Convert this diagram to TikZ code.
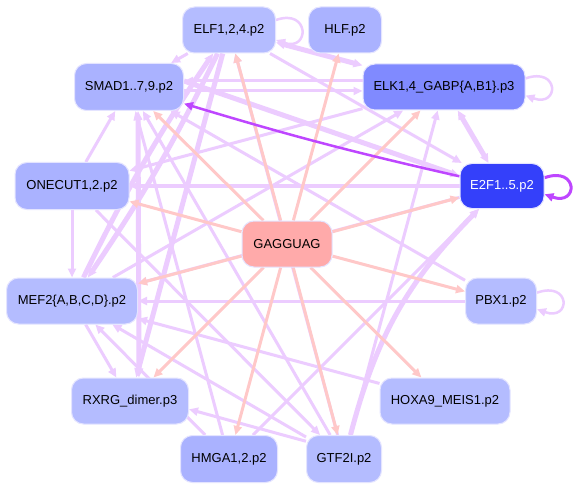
\documentclass[tikz,border=0pt]{standalone}
\usepackage{fontspec}
\setmainfont{Liberation Sans}
\usetikzlibrary{arrows.meta,backgrounds}
\pgfdeclarelayer{canvasbg}
\pgfsetlayers{canvasbg,background,main}
\definecolor{nA}{RGB}{170,178,255}
\definecolor{nB}{RGB}{180,188,255}
\definecolor{nElk}{RGB}{128,138,255}
\definecolor{nEtwo}{RGB}{52,64,250}
\definecolor{nGag}{RGB}{255,170,170}
\definecolor{ePur}{RGB}{236,204,255}
\definecolor{ePink}{RGB}{255,200,200}
\definecolor{eDark}{RGB}{190,70,255}
\definecolor{nBord}{RGB}{228,228,255}
\begin{document}
\begin{tikzpicture}[x=1pt,y=1pt,
  tf/.style={rectangle,rounded corners=12pt,draw=nBord,line width=1pt,inner sep=0pt,
    font=\fontsize{13}{15}\selectfont,text=black},
  tipa/.tip={Triangle[length=9pt,width=8pt]},
  pe/.style={draw=ePur,line width=3pt,-tipa},
  pet/.style={draw=ePur,line width=5pt,-tipa},
  pe2/.style={draw=ePur,line width=3.5pt,tipa-tipa},
  pet2/.style={draw=ePur,line width=5pt,tipa-tipa},
  pk/.style={draw=ePink,line width=3pt,-tipa},
  dp/.style={draw=eDark,line width=2.5pt,-tipa}]
\useasboundingbox (0,0) rectangle (575,-489);
\begin{pgfonlayer}{canvasbg}
\fill[white] (0,0) rectangle (575,-489);
\end{pgfonlayer}
% nodes
\node[tf,fill=nB,minimum width=93pt,minimum height=46pt] (elf) at (229,-30) {ELF1,2,4.p2};
\node[tf,fill=nA,minimum width=73pt,minimum height=46pt] (hlf) at (345,-30) {HLF.p2};
\node[tf,fill=nA,minimum width=109pt,minimum height=47pt] (smad) at (129,-87) {SMAD1..7,9.p2};
\node[tf,fill=nElk,minimum width=162pt,minimum height=46pt] (elk) at (444,-87) {ELK1,4\_GABP\{A,B1\}.p3};
\node[tf,fill=nA,minimum width=114pt,minimum height=47pt] (onecut) at (72,-186) {ONECUT1,2.p2};
\node[tf,fill=nEtwo,minimum width=84pt,minimum height=45pt,text=white] (e2f) at (502,-186) {E2F1..5.p2};
\node[tf,fill=nB,minimum width=131pt,minimum height=46pt] (mef2) at (72,-301) {MEF2\{A,B,C,D\}.p2};
\node[tf,fill=nB,minimum width=71pt,minimum height=46pt] (pbx) at (501,-301) {PBX1.p2};
\node[tf,fill=nB,minimum width=117pt,minimum height=46pt] (rxrg) at (130,-401) {RXRG\_dimer.p3};
\node[tf,fill=nB,minimum width=130pt,minimum height=46pt] (hoxa) at (445,-401) {HOXA9\_MEIS1.p2};
\node[tf,fill=nA,minimum width=97pt,minimum height=47pt] (hmga) at (229,-459) {HMGA1,2.p2};
\node[tf,fill=nB,minimum width=75pt,minimum height=47pt] (gtf) at (344,-459) {GTF2I.p2};
\node[tf,fill=nGag,minimum width=90pt,minimum height=46pt] (gag) at (287,-244) {GAGGUAG};
\begin{scope}[on background layer]
% purple edges
\draw[pe] (elf) -- (smad);
\draw[pe] ([yshift=6pt]elk.west) -- ([yshift=6pt]smad.east);
\draw[pe] ([yshift=-4pt]smad.east) -- ([yshift=-4pt]elk.west);
\draw[pet2] (elf) -- (elk);
\draw[pet2] (elk) -- (e2f);
\draw[pe] (onecut) -- (mef2);
\draw[pe] (onecut) -- (smad);
\draw[pe] (e2f) -- (onecut);
\draw[pe] (pbx) -- (mef2);
\draw[pet] (mef2) to[bend left=4] (elf);
\draw[pet] (elf) to[bend left=4] (mef2);
\draw[pet2] ([xshift=9pt]smad.south) -- ([xshift=9pt]rxrg.north);
\draw[pet] (elf) -- (rxrg);
\draw[pe] (mef2) -- (rxrg);
\draw[pe] (gtf.155) -- (rxrg.-8);
\draw[pe] (gtf) -- (smad);
\draw[pe] (gtf) -- (elf);
\draw[pe] (gtf) -- (mef2);
\draw[pet] (gtf) to[bend left=15] (e2f);
\draw[pe] (gtf) -- (elk);
\draw[pe] (hmga) -- (smad);
\draw[pe] (hmga) -- (mef2);
\draw[pe] (hmga) -- (e2f);
\draw[pe] (hoxa) -- (mef2);
\draw[pe] (pbx) -- (smad);
\draw[pe] (e2f) -- (mef2);
\draw[pe] (mef2) -- (elk);
\draw[pe] (elk) -- (onecut);
\draw[pe] (onecut) -- (gtf);
\draw[pet] ([yshift=6pt]smad.east) -- ([yshift=10pt]e2f.west);
\draw[pe] (elf) -- (e2f);
% self loops
\draw[pe,line width=2.5pt] (elf.12) .. controls +(34,12) and +(34,-12) .. (elf.-12);
\draw[pe,line width=2.5pt] (elk.6) .. controls +(34,12) and +(34,-12) .. (elk.-6);
\draw[pe,line width=2.5pt] (pbx.13) .. controls +(34,12) and +(34,-12) .. (pbx.-13);
% pink edges
\foreach \t in {elf,hlf,smad,elk,onecut,e2f,mef2,pbx,rxrg,hoxa,hmga,gtf}
  \draw[pk] (gag) -- (\t);
% dark purple
\draw[dp] (e2f) to[bend left=2] (smad);
\draw[dp,line width=3pt] (e2f.11) .. controls +(34,12) and +(34,-12) .. (e2f.-11);
\end{scope}
\end{tikzpicture}
\end{document}
